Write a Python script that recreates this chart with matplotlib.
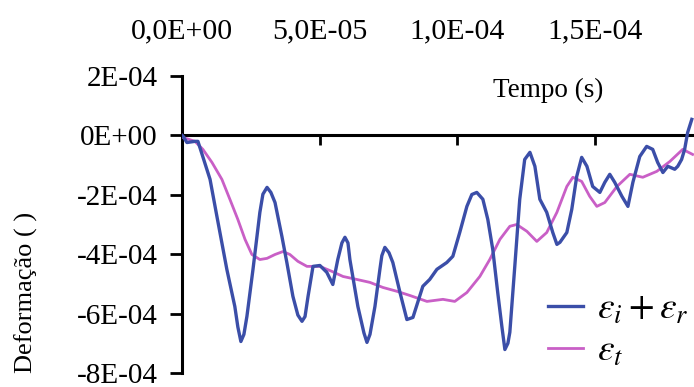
import matplotlib
matplotlib.use('Agg')
import matplotlib.pyplot as plt
from matplotlib.ticker import FixedLocator, FuncFormatter
import numpy as np

plt.rcParams['font.family'] = 'Liberation Serif'
plt.rcParams['mathtext.fontset'] = 'stix'

# Incident + reflected strain (eps_i + eps_r): time in microseconds, strain in 1e-4
t_ir_us = [0.0, 0.4, 1.8, 4.7, 5.8, 10.2, 12.7, 16.3, 19.2, 20.3, 21.4, 22.5, 23.6,
           25.8, 28.3, 29.4, 30.9, 32.3, 33.8, 36.3, 38.1, 40.3, 42.1, 43.6, 44.7,
           45.8, 47.6, 50.1, 52.6, 54.8, 56.6, 58.1, 59.2, 60.3, 61.0, 63.9, 66.1,
           67.2, 68.3, 70.1, 71.9, 72.6, 73.7, 75.2, 76.6, 79.2, 81.7, 83.9, 87.5,
           90.0, 92.6, 96.2, 98.4, 100.9, 103.5, 105.3, 107.1, 109.3, 111.1, 112.9,
           114.7, 116.2, 117.3, 118.4, 119.1, 120.9, 122.7, 124.5, 126.4, 128.2,
           130.0, 132.5, 134.7, 136.2, 137.3, 139.8, 141.6, 143.4, 145.2, 147.1,
           149.2, 151.8, 153.6, 155.4, 157.2, 159.8, 162.0, 163.8, 166.3, 168.8,
           171.0, 172.8, 174.7, 176.5, 179.0, 180.1, 181.5, 182.6, 183.7, 185.2]
eps_ir = [0.0, -0.03, -0.24, -0.20, -0.20, -1.48, -2.73, -4.51, -5.76, -6.45, -6.94,
          -6.70, -6.09, -4.51, -2.59, -1.98, -1.75, -1.92, -2.26, -3.40, -4.28, -5.42,
          -6.05, -6.26, -6.10, -5.42, -4.41, -4.38, -4.61, -5.02, -4.18, -3.62, -3.43,
          -3.62, -4.18, -5.76, -6.65, -6.97, -6.70, -5.76, -4.51, -4.05, -3.77, -3.95,
          -4.28, -5.29, -6.20, -6.13, -5.08, -4.85, -4.51, -4.28, -4.07, -3.27, -2.39,
          -1.99, -1.92, -2.15, -2.83, -3.84, -5.29, -6.43, -7.21, -7.00, -6.63, -4.41,
          -2.15, -0.81, -0.57, -1.04, -2.15, -2.59, -3.27, -3.67, -3.60, -3.27, -2.49,
          -1.38, -0.74, -1.04, -1.72, -1.92, -1.58, -1.31, -1.58, -2.05, -2.39, -1.58,
          -0.71, -0.37, -0.47, -0.91, -1.25, -1.04, -1.14, -1.04, -0.81, -0.47, 0.10,
          0.54]

# Transmitted strain (eps_t)
t_t_us = [0.0, 0.4, 4.7, 7.6, 10.9, 14.5, 17.4, 20.3, 22.9, 25.4, 28.3, 30.9, 33.8,
          36.7, 39.2, 42.1, 45.4, 50.1, 54.5, 58.5, 63.5, 68.3, 73.0, 78.1, 82.8,
          89.0, 94.8, 99.1, 103.5, 108.2, 111.8, 115.5, 119.1, 121.6, 125.3, 128.9,
          132.5, 136.2, 139.8, 142.0, 145.2, 148.1, 150.7, 153.6, 158.0, 162.7,
          167.4, 172.5, 177.2, 181.9, 185.5]
eps_t = [0.0, -0.07, -0.20, -0.47, -0.91, -1.48, -2.15, -2.83, -3.50, -4.01, -4.18,
         -4.14, -4.01, -3.91, -4.01, -4.24, -4.41, -4.41, -4.58, -4.75, -4.85, -4.95,
         -5.12, -5.25, -5.39, -5.59, -5.52, -5.59, -5.29, -4.75, -4.18, -3.50, -3.06,
         -3.00, -3.23, -3.57, -3.27, -2.59, -1.72, -1.41, -1.55, -2.05, -2.39, -2.26,
         -1.72, -1.31, -1.41, -1.21, -0.88, -0.47, -0.64]

x_ticks = [0.0, 5e-5, 1e-4, 1.5e-4]
y_ticks = [-8e-4, -6e-4, -4e-4, -2e-4, 0.0, 2e-4]

BLUE = '#3b4ea8'
PINK = '#c95fc6'

t_ir = np.array(t_ir_us) * 1e-6
t_t = np.array(t_t_us) * 1e-6
e_ir = np.array(eps_ir) * 1e-4
e_t = np.array(eps_t) * 1e-4

fig = plt.figure(figsize=(6.94, 3.87), dpi=100)
ax = fig.add_axes([0.2622, 0.0362, 0.7378, 0.7674])

ax.plot(t_t, e_t, color=PINK, lw=2.0, label=r'$\varepsilon_t$', zorder=3,
        solid_joinstyle='round')
ax.plot(t_ir, e_ir, color=BLUE, lw=2.4, label=r'$\varepsilon_i + \varepsilon_r$', zorder=4,
        solid_joinstyle='round')

ax.set_xlim(0, 1.86e-4)
ax.set_ylim(-8e-4, 2e-4)

# axis line crosses at zero, tick labels sit above the plot
for side in ('top', 'right'):
    ax.spines[side].set_visible(False)
ax.spines['bottom'].set_position(('data', 0))
ax.spines['bottom'].set_linewidth(2.2)
ax.spines['left'].set_linewidth(2.2)

ax.xaxis.set_major_locator(FixedLocator(x_ticks))
ax.xaxis.set_major_formatter(FuncFormatter(lambda v, p: f'{v:.1E}'.replace('.', ',')))
ax.tick_params(axis='x', bottom=True, top=False, labelbottom=False, labeltop=True,
               direction='out', length=7, width=2, pad=16, labelsize=21.5)

ax.yaxis.set_major_locator(FixedLocator(y_ticks))
ax.yaxis.set_major_formatter(FuncFormatter(lambda v, p: f'{v:.0E}'))
ax.tick_params(axis='y', direction='out', length=8.5, width=2, pad=9, labelsize=21)

ax.set_ylabel('Deformação ( )', fontsize=19, va='center')
ax.yaxis.set_label_coords(-0.3045, 0.2727)

ax.text(0.715, 0.929, 'Tempo (s)', transform=ax.transAxes, ha='center',
        va='baseline', fontsize=19.5)

handles, labels = ax.get_legend_handles_labels()
ax.legend(handles[::-1], labels[::-1], loc='center left', bbox_to_anchor=(0.715, 0.141),
          frameon=False, fontsize=27, borderpad=0, borderaxespad=0,
          handlelength=0.93, handletextpad=0.37, labelspacing=0.2)

fig.savefig('out.png', dpi=100, facecolor='white')
